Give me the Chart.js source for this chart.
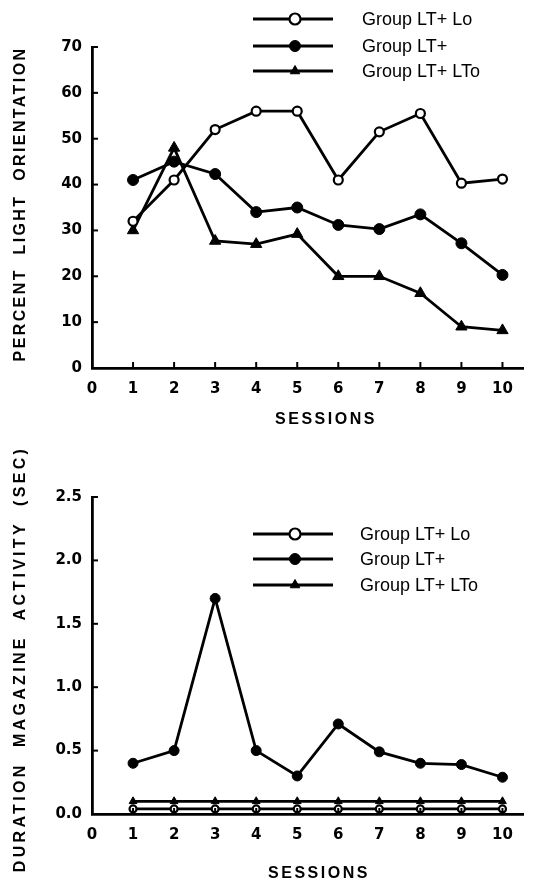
<!DOCTYPE html>
<html>
<head>
<meta charset="utf-8">
<script src="https://cdn.jsdelivr.net/npm/chart.js@4.4.0/dist/chart.umd.min.js"></script>
<style>
  html, body { margin: 0; padding: 0; background: #fff; }
  #wrap { position: relative; width: 534px; height: 882px; overflow: hidden; }
  canvas { position: absolute; left: 0; }
  .ytitle { position: absolute; font: bold 16px "Liberation Sans", Arial, sans-serif; letter-spacing: 2.4px; white-space: pre; color: #000; transform: translate(-50%, -50%) rotate(-90deg); }
  .xtitle { position: absolute; font: bold 16px "Liberation Sans", Arial, sans-serif; letter-spacing: 2.5px; white-space: pre; color: #000; transform: translate(-50%, -50%); }
</style>
</head>
<body>
<div id="wrap">
  <canvas id="top" width="534" height="440" style="top:0;width:534px;height:440px"></canvas>
  <canvas id="bot" width="534" height="442" style="top:440px;width:534px;height:442px"></canvas>
  <div class="ytitle" style="left:20px;top:204px">PERCENT  LIGHT  ORIENTATION</div>
  <div class="xtitle" style="left:326px;top:419px">SESSIONS</div>
  <div class="ytitle" style="left:20px;top:659px;letter-spacing:3.3px">DURATION  MAGAZINE  ACTIVITY  (SEC)</div>
  <div class="xtitle" style="left:319px;top:873px">SESSIONS</div>
</div>
<script>
// ---- data ----
const sessions = [1, 2, 3, 4, 5, 6, 7, 8, 9, 10];
const seriesNames = ["Group LT+ Lo", "Group LT+", "Group LT+ LTo"];
const orientLo  = [32, 41, 52, 56, 56, 41, 51.5, 55.5, 40.3, 41.2];
const orientLT  = [41, 45, 42.3, 34, 35, 31.2, 30.3, 33.5, 27.2, 20.3];
const orientLTo = [30, 48, 27.7, 27, 29.2, 20, 20, 16.3, 9, 8.2];
const magLo  = [0.04, 0.04, 0.04, 0.04, 0.04, 0.04, 0.04, 0.04, 0.04, 0.04];
const magLT  = [0.40, 0.50, 1.70, 0.50, 0.30, 0.71, 0.49, 0.40, 0.39, 0.29];
const magLTo = [0.10, 0.10, 0.10, 0.10, 0.10, 0.10, 0.10, 0.10, 0.10, 0.10];
const xTickLabels = ["0", "1", "2", "3", "4", "5", "6", "7", "8", "9", "10"];
const yTopTicks = [0, 10, 20, 30, 40, 50, 60, 70];
const yBotTicks = [0, 0.5, 1.0, 1.5, 2.0, 2.5];

const FONT = '"Liberation Sans", Arial, sans-serif';
const TICKFONT = '"DejaVu Sans", "Liberation Sans", sans-serif';

function pts(vals) { return sessions.map((s, i) => ({ x: s, y: vals[i] })); }

function makeDatasets(lo, lt, lto, small) {
  return [
    { label: seriesNames[0], data: pts(lo), borderColor: '#000', borderWidth: 2.8,
      pointStyle: 'circle', pointRadius: small ? 3.5 : 4.5, pointBackgroundColor: '#fff',
      pointBorderColor: '#000', pointBorderWidth: 2.2, clip: false },
    { label: seriesNames[1], data: pts(lt), borderColor: '#000', borderWidth: 2.8,
      pointStyle: 'circle', pointRadius: small ? 5 : 5.5, pointBackgroundColor: '#000',
      pointBorderColor: '#000', pointBorderWidth: 1, clip: false },
    { label: seriesNames[2], data: pts(lto), borderColor: '#000', borderWidth: 2.8,
      pointStyle: 'triangle', pointRadius: small ? 4.5 : 6.5, pointBackgroundColor: '#000',
      pointBorderColor: '#000', pointBorderWidth: 1, clip: false }
  ];
}

const lineLegend = {
  id: 'lineLegend',
  afterDraw(chart, args, opts) {
    const ctx = chart.ctx;
    opts.rows.forEach((y, i) => {
      const ds = chart.data.datasets[i];
      ctx.save();
      ctx.strokeStyle = '#000';
      ctx.lineWidth = 2.8;
      ctx.beginPath(); ctx.moveTo(opts.x0, y); ctx.lineTo(opts.x1, y); ctx.stroke();
      ctx.fillStyle = ds.pointBackgroundColor;
      ctx.strokeStyle = ds.pointBorderColor;
      ctx.lineWidth = ds.pointBorderWidth;
      Chart.helpers.drawPoint(ctx, { pointStyle: ds.pointStyle, radius: opts.r, borderWidth: ds.pointBorderWidth, rotation: 0 }, opts.mx, y);
      ctx.fillStyle = '#000';
      ctx.font = '18px ' + FONT;
      ctx.textBaseline = 'middle';
      ctx.textAlign = 'left';
      ctx.fillText(ds.label, opts.tx, y + 1);
      ctx.restore();
    });
  }
};

const inwardTicks = {
  id: 'inwardTicks',
  afterDatasetsDraw(chart) {
    const ctx = chart.ctx;
    const xs = chart.scales.x, ys = chart.scales.y, a = chart.chartArea;
    ctx.save();
    ctx.strokeStyle = '#000';
    ctx.lineWidth = 2;
    ys.ticks.forEach(t => {
      if (t.value === 0) return;
      const p = ys.getPixelForValue(t.value);
      ctx.beginPath(); ctx.moveTo(a.left, p); ctx.lineTo(a.left + 6, p); ctx.stroke();
    });
    xs.ticks.forEach(t => {
      if (t.value === 0) return;
      const p = xs.getPixelForValue(t.value);
      ctx.beginPath(); ctx.moveTo(p, a.bottom); ctx.lineTo(p, a.bottom - 6); ctx.stroke();
    });
    ctx.restore();
  }
};

function makeChart(id, datasets, yTicks, yFmt, pad, xHeight, legendOpts) {
  return new Chart(document.getElementById(id), {
    type: 'line',
    data: { datasets },
    plugins: [lineLegend, inwardTicks],
    options: {
      responsive: false,
      animation: false,
      events: [],
      layout: { padding: pad },
      plugins: { legend: { display: false }, tooltip: { enabled: false }, lineLegend: legendOpts },
      scales: {
        x: {
          type: 'linear', min: 0, max: 10.5,
          afterBuildTicks: s => { s.ticks = xTickLabels.map(v => ({ value: Number(v) })); },
          afterFit: s => { s.height = xHeight; },
          grid: { display: false, drawTicks: false },
          border: { display: true, color: '#000', width: 2.8 },
          ticks: { color: '#000', padding: 12, font: { family: TICKFONT, size: 15, weight: 'bold' },
                   callback: v => String(v), maxRotation: 0, autoSkip: false }
        },
        y: {
          type: 'linear', min: yTicks[0], max: yTicks[yTicks.length - 1],
          afterBuildTicks: s => { s.ticks = yTicks.map(v => ({ value: v })); },
          afterFit: s => { s.width = 92; },
          grid: { display: false, drawTicks: false },
          border: { display: true, color: '#000', width: 2.8 },
          ticks: { color: '#000', padding: 10, font: { family: TICKFONT, size: 15, weight: 'bold' },
                   callback: yFmt, autoSkip: false }
        }
      }
    }
  });
}

makeChart('top', makeDatasets(orientLo, orientLT, orientLTo, false), yTopTicks, v => String(v),
  { top: 47, right: 11, bottom: 0, left: 0 }, 72,
  { rows: [19, 46, 71], x0: 253, x1: 333, mx: 295, tx: 362, r: 5.5 });

makeChart('bot', makeDatasets(magLo, magLT, magLTo, true), yBotTicks, v => v.toFixed(1),
  { top: 57, right: 11, bottom: 0, left: 0 }, 68,
  { rows: [94, 119, 145], x0: 253, x1: 333, mx: 295, tx: 360, r: 5.5 });
</script>
</body>
</html>
